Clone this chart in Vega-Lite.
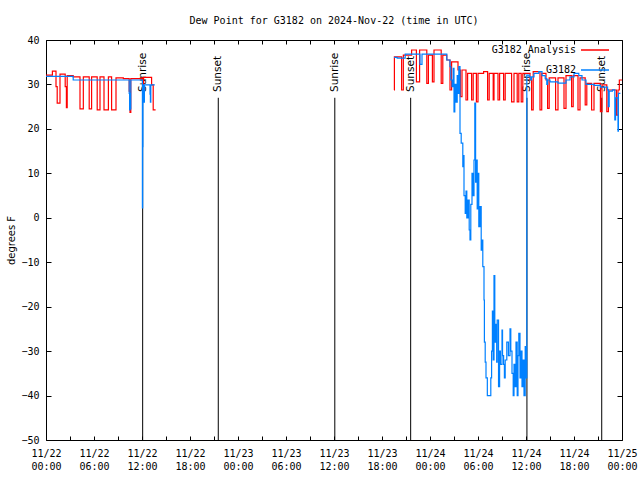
{
"$schema": "https://vega.github.io/schema/vega-lite/v6.json",
"width": 576, "height": 400,
"autosize": "none",
"padding": {"left": 46, "top": 40, "right": 18, "bottom": 40},
"background": "white",
"title": {"text": "Dew Point for G3182 on 2024-Nov-22 (time in UTC)", "font": "DejaVu Sans Mono", "fontSize": 10, "fontWeight": "normal", "color": "black", "offset": 9, "anchor": "middle"},
"config": {
  "view": {"stroke": "black", "strokeWidth": 1},
  "axis": {"labelFont": "DejaVu Sans Mono", "labelFontSize": 10, "labelColor": "black", "tickColor": "black", "domain": false, "grid": false, "titleFont": "DejaVu Sans", "titleFontSize": 10, "titleFontWeight": "normal", "titleColor": "black", "tickSize": -4},
  "legend": {"orient": "none", "legendX": 534, "legendY": -5, "title": null, "symbolType": "stroke", "symbolSize": 784, "symbolStrokeWidth": 1.5, "labelAlign": "right", "labelOffset": -34, "labelFont": "DejaVu Sans Mono", "labelFontSize": 10, "labelColor": "black", "rowPadding": -15, "padding": 0}
},
"datasets": {
  "events": [
    {"t": "2024-11-22T12:05:00Z", "lab": "Sunrise"},
    {"t": "2024-11-22T21:32:00Z", "lab": "Sunset"},
    {"t": "2024-11-23T12:06:00Z", "lab": "Sunrise"},
    {"t": "2024-11-23T21:35:00Z", "lab": "Sunset"},
    {"t": "2024-11-24T12:07:00Z", "lab": "Sunrise"},
    {"t": "2024-11-24T21:28:00Z", "lab": "Sunset"}
  ],
  "ana": [
    {"t": "2024-11-22T00:00:00Z", "v": 32.1, "s": "G3182 Analysis", "p": 1},
    {"t": "2024-11-22T00:48:00Z", "v": 33.0, "s": "G3182 Analysis", "p": 1},
    {"t": "2024-11-22T01:15:00Z", "v": 29.5, "s": "G3182 Analysis", "p": 1},
    {"t": "2024-11-22T01:24:00Z", "v": 25.8, "s": "G3182 Analysis", "p": 1},
    {"t": "2024-11-22T01:45:00Z", "v": 32.3, "s": "G3182 Analysis", "p": 1},
    {"t": "2024-11-22T02:24:00Z", "v": 29.5, "s": "G3182 Analysis", "p": 1},
    {"t": "2024-11-22T02:33:00Z", "v": 24.8, "s": "G3182 Analysis", "p": 1},
    {"t": "2024-11-22T02:39:00Z", "v": 32.0, "s": "G3182 Analysis", "p": 1},
    {"t": "2024-11-22T03:24:00Z", "v": 31.7, "s": "G3182 Analysis", "p": 1},
    {"t": "2024-11-22T04:15:00Z", "v": 24.5, "s": "G3182 Analysis", "p": 1},
    {"t": "2024-11-22T04:40:00Z", "v": 31.7, "s": "G3182 Analysis", "p": 1},
    {"t": "2024-11-22T05:24:00Z", "v": 24.5, "s": "G3182 Analysis", "p": 1},
    {"t": "2024-11-22T05:42:00Z", "v": 31.7, "s": "G3182 Analysis", "p": 1},
    {"t": "2024-11-22T06:24:00Z", "v": 24.3, "s": "G3182 Analysis", "p": 1},
    {"t": "2024-11-22T06:45:00Z", "v": 31.7, "s": "G3182 Analysis", "p": 1},
    {"t": "2024-11-22T07:15:00Z", "v": 24.3, "s": "G3182 Analysis", "p": 1},
    {"t": "2024-11-22T07:48:00Z", "v": 31.7, "s": "G3182 Analysis", "p": 1},
    {"t": "2024-11-22T08:12:00Z", "v": 24.3, "s": "G3182 Analysis", "p": 1},
    {"t": "2024-11-22T08:45:00Z", "v": 31.5, "s": "G3182 Analysis", "p": 1},
    {"t": "2024-11-22T09:40:00Z", "v": 31.3, "s": "G3182 Analysis", "p": 1},
    {"t": "2024-11-22T10:24:00Z", "v": 28.5, "s": "G3182 Analysis", "p": 1},
    {"t": "2024-11-22T10:30:00Z", "v": 23.7, "s": "G3182 Analysis", "p": 1},
    {"t": "2024-11-22T10:36:00Z", "v": 31.3, "s": "G3182 Analysis", "p": 1},
    {"t": "2024-11-22T11:58:00Z", "v": 31.5, "s": "G3182 Analysis", "p": 1},
    {"t": "2024-11-22T12:06:00Z", "v": 29.5, "s": "G3182 Analysis", "p": 1},
    {"t": "2024-11-22T12:12:00Z", "v": 31.6, "s": "G3182 Analysis", "p": 1},
    {"t": "2024-11-22T13:12:00Z", "v": 29.9, "s": "G3182 Analysis", "p": 1},
    {"t": "2024-11-22T13:24:00Z", "v": 24.3, "s": "G3182 Analysis", "p": 1},
    {"t": "2024-11-22T13:42:00Z", "v": 24.3, "s": "G3182 Analysis", "p": 1},
    {"t": "2024-11-23T19:30:00Z", "v": 28.75, "s": "G3182 Analysis", "p": 2},
    {"t": "2024-11-23T19:33:00Z", "v": 36.2, "s": "G3182 Analysis", "p": 2},
    {"t": "2024-11-23T20:27:00Z", "v": 28.75, "s": "G3182 Analysis", "p": 2},
    {"t": "2024-11-23T20:40:00Z", "v": 36.6, "s": "G3182 Analysis", "p": 2},
    {"t": "2024-11-23T21:42:00Z", "v": 37.75, "s": "G3182 Analysis", "p": 2},
    {"t": "2024-11-23T22:18:00Z", "v": 30.6, "s": "G3182 Analysis", "p": 2},
    {"t": "2024-11-23T22:42:00Z", "v": 37.75, "s": "G3182 Analysis", "p": 2},
    {"t": "2024-11-23T23:36:00Z", "v": 30.25, "s": "G3182 Analysis", "p": 2},
    {"t": "2024-11-23T23:48:00Z", "v": 36.6, "s": "G3182 Analysis", "p": 2},
    {"t": "2024-11-24T00:18:00Z", "v": 30.6, "s": "G3182 Analysis", "p": 2},
    {"t": "2024-11-24T00:30:00Z", "v": 37.75, "s": "G3182 Analysis", "p": 2},
    {"t": "2024-11-24T01:24:00Z", "v": 30.25, "s": "G3182 Analysis", "p": 2},
    {"t": "2024-11-24T01:36:00Z", "v": 36.6, "s": "G3182 Analysis", "p": 2},
    {"t": "2024-11-24T02:06:00Z", "v": 35.5, "s": "G3182 Analysis", "p": 2},
    {"t": "2024-11-24T02:30:00Z", "v": 28.75, "s": "G3182 Analysis", "p": 2},
    {"t": "2024-11-24T02:42:00Z", "v": 35.1, "s": "G3182 Analysis", "p": 2},
    {"t": "2024-11-24T03:30:00Z", "v": 33.25, "s": "G3182 Analysis", "p": 2},
    {"t": "2024-11-24T03:48:00Z", "v": 27.25, "s": "G3182 Analysis", "p": 2},
    {"t": "2024-11-24T04:00:00Z", "v": 33.25, "s": "G3182 Analysis", "p": 2},
    {"t": "2024-11-24T04:30:00Z", "v": 26.5, "s": "G3182 Analysis", "p": 2},
    {"t": "2024-11-24T04:42:00Z", "v": 32.5, "s": "G3182 Analysis", "p": 2},
    {"t": "2024-11-24T05:12:00Z", "v": 26.5, "s": "G3182 Analysis", "p": 2},
    {"t": "2024-11-24T05:24:00Z", "v": 32.5, "s": "G3182 Analysis", "p": 2},
    {"t": "2024-11-24T05:48:00Z", "v": 26.1, "s": "G3182 Analysis", "p": 2},
    {"t": "2024-11-24T06:00:00Z", "v": 32.5, "s": "G3182 Analysis", "p": 2},
    {"t": "2024-11-24T06:42:00Z", "v": 32.9, "s": "G3182 Analysis", "p": 2},
    {"t": "2024-11-24T07:12:00Z", "v": 26.5, "s": "G3182 Analysis", "p": 2},
    {"t": "2024-11-24T07:24:00Z", "v": 32.5, "s": "G3182 Analysis", "p": 2},
    {"t": "2024-11-24T07:54:00Z", "v": 26.5, "s": "G3182 Analysis", "p": 2},
    {"t": "2024-11-24T08:00:00Z", "v": 32.5, "s": "G3182 Analysis", "p": 2},
    {"t": "2024-11-24T08:30:00Z", "v": 26.5, "s": "G3182 Analysis", "p": 2},
    {"t": "2024-11-24T08:42:00Z", "v": 32.5, "s": "G3182 Analysis", "p": 2},
    {"t": "2024-11-24T09:12:00Z", "v": 26.5, "s": "G3182 Analysis", "p": 2},
    {"t": "2024-11-24T09:24:00Z", "v": 32.5, "s": "G3182 Analysis", "p": 2},
    {"t": "2024-11-24T10:12:00Z", "v": 26.1, "s": "G3182 Analysis", "p": 2},
    {"t": "2024-11-24T10:30:00Z", "v": 32.5, "s": "G3182 Analysis", "p": 2},
    {"t": "2024-11-24T10:54:00Z", "v": 26.1, "s": "G3182 Analysis", "p": 2},
    {"t": "2024-11-24T11:06:00Z", "v": 32.5, "s": "G3182 Analysis", "p": 2},
    {"t": "2024-11-24T11:24:00Z", "v": 26.1, "s": "G3182 Analysis", "p": 2},
    {"t": "2024-11-24T11:36:00Z", "v": 32.5, "s": "G3182 Analysis", "p": 2},
    {"t": "2024-11-24T12:30:00Z", "v": 31.0, "s": "G3182 Analysis", "p": 2},
    {"t": "2024-11-24T12:42:00Z", "v": 24.3, "s": "G3182 Analysis", "p": 2},
    {"t": "2024-11-24T12:54:00Z", "v": 32.9, "s": "G3182 Analysis", "p": 2},
    {"t": "2024-11-24T13:45:00Z", "v": 24.3, "s": "G3182 Analysis", "p": 2},
    {"t": "2024-11-24T13:58:00Z", "v": 32.5, "s": "G3182 Analysis", "p": 2},
    {"t": "2024-11-24T14:30:00Z", "v": 31.0, "s": "G3182 Analysis", "p": 2},
    {"t": "2024-11-24T14:42:00Z", "v": 24.6, "s": "G3182 Analysis", "p": 2},
    {"t": "2024-11-24T14:54:00Z", "v": 31.5, "s": "G3182 Analysis", "p": 2},
    {"t": "2024-11-24T15:42:00Z", "v": 24.3, "s": "G3182 Analysis", "p": 2},
    {"t": "2024-11-24T16:00:00Z", "v": 31.5, "s": "G3182 Analysis", "p": 2},
    {"t": "2024-11-24T16:45:00Z", "v": 24.6, "s": "G3182 Analysis", "p": 2},
    {"t": "2024-11-24T17:00:00Z", "v": 32.0, "s": "G3182 Analysis", "p": 2},
    {"t": "2024-11-24T17:42:00Z", "v": 25.0, "s": "G3182 Analysis", "p": 2},
    {"t": "2024-11-24T17:54:00Z", "v": 32.0, "s": "G3182 Analysis", "p": 2},
    {"t": "2024-11-24T18:30:00Z", "v": 24.3, "s": "G3182 Analysis", "p": 2},
    {"t": "2024-11-24T18:45:00Z", "v": 31.5, "s": "G3182 Analysis", "p": 2},
    {"t": "2024-11-24T19:24:00Z", "v": 25.4, "s": "G3182 Analysis", "p": 2},
    {"t": "2024-11-24T19:36:00Z", "v": 30.25, "s": "G3182 Analysis", "p": 2},
    {"t": "2024-11-24T20:12:00Z", "v": 24.25, "s": "G3182 Analysis", "p": 2},
    {"t": "2024-11-24T20:30:00Z", "v": 30.25, "s": "G3182 Analysis", "p": 2},
    {"t": "2024-11-24T21:18:00Z", "v": 23.9, "s": "G3182 Analysis", "p": 2},
    {"t": "2024-11-24T21:30:00Z", "v": 29.9, "s": "G3182 Analysis", "p": 2},
    {"t": "2024-11-24T22:06:00Z", "v": 23.9, "s": "G3182 Analysis", "p": 2},
    {"t": "2024-11-24T22:18:00Z", "v": 28.75, "s": "G3182 Analysis", "p": 2},
    {"t": "2024-11-24T23:18:00Z", "v": 23.1, "s": "G3182 Analysis", "p": 2},
    {"t": "2024-11-24T23:30:00Z", "v": 28.75, "s": "G3182 Analysis", "p": 2},
    {"t": "2024-11-24T23:40:00Z", "v": 31.0, "s": "G3182 Analysis", "p": 2},
    {"t": "2024-11-25T00:00:00Z", "v": 31.0, "s": "G3182 Analysis", "p": 2}
  ],
  "obs": [
    {"t": "2024-11-22T00:00:00Z", "v": 31.8, "s": "G3182", "p": 1},
    {"t": "2024-11-22T03:24:00Z", "v": 31.0, "s": "G3182", "p": 1},
    {"t": "2024-11-22T10:24:00Z", "v": 28.0, "s": "G3182", "p": 1},
    {"t": "2024-11-22T10:27:00Z", "v": 24.3, "s": "G3182", "p": 1},
    {"t": "2024-11-22T10:30:00Z", "v": 26.0, "s": "G3182", "p": 1},
    {"t": "2024-11-22T10:33:00Z", "v": 24.5, "s": "G3182", "p": 1},
    {"t": "2024-11-22T10:36:00Z", "v": 31.0, "s": "G3182", "p": 1},
    {"t": "2024-11-22T12:00:00Z", "v": 31.0, "s": "G3182", "p": 1},
    {"t": "2024-11-22T12:03:00Z", "v": 2.2, "s": "G3182", "p": 1},
    {"t": "2024-11-22T12:05:00Z", "v": 16.0, "s": "G3182", "p": 1},
    {"t": "2024-11-22T12:07:00Z", "v": 29.9, "s": "G3182", "p": 1},
    {"t": "2024-11-22T12:15:00Z", "v": 26.0, "s": "G3182", "p": 1},
    {"t": "2024-11-22T12:18:00Z", "v": 29.9, "s": "G3182", "p": 1},
    {"t": "2024-11-22T13:00:00Z", "v": 27.8, "s": "G3182", "p": 1},
    {"t": "2024-11-22T13:03:00Z", "v": 26.0, "s": "G3182", "p": 1},
    {"t": "2024-11-22T13:06:00Z", "v": 29.9, "s": "G3182", "p": 1},
    {"t": "2024-11-22T13:36:00Z", "v": 29.9, "s": "G3182", "p": 1},
    {"t": "2024-11-23T19:30:00Z", "v": 36.1, "s": "G3182", "p": 2},
    {"t": "2024-11-23T19:54:00Z", "v": 35.9, "s": "G3182", "p": 2},
    {"t": "2024-11-23T20:54:00Z", "v": 36.8, "s": "G3182", "p": 2},
    {"t": "2024-11-23T22:45:00Z", "v": 34.5, "s": "G3182", "p": 2},
    {"t": "2024-11-23T23:00:00Z", "v": 36.8, "s": "G3182", "p": 2},
    {"t": "2024-11-24T02:06:00Z", "v": 35.5, "s": "G3182", "p": 2},
    {"t": "2024-11-24T02:30:00Z", "v": 34.0, "s": "G3182", "p": 2},
    {"t": "2024-11-24T02:36:00Z", "v": 31.0, "s": "G3182", "p": 2},
    {"t": "2024-11-24T02:45:00Z", "v": 29.5, "s": "G3182", "p": 2},
    {"t": "2024-11-24T02:54:00Z", "v": 33.6, "s": "G3182", "p": 2},
    {"t": "2024-11-24T03:00:00Z", "v": 23.8, "s": "G3182", "p": 2},
    {"t": "2024-11-24T03:06:00Z", "v": 30.0, "s": "G3182", "p": 2},
    {"t": "2024-11-24T03:15:00Z", "v": 26.0, "s": "G3182", "p": 2},
    {"t": "2024-11-24T03:24:00Z", "v": 32.0, "s": "G3182", "p": 2},
    {"t": "2024-11-24T03:30:00Z", "v": 28.0, "s": "G3182", "p": 2},
    {"t": "2024-11-24T03:36:00Z", "v": 34.0, "s": "G3182", "p": 2},
    {"t": "2024-11-24T03:45:00Z", "v": 19.0, "s": "G3182", "p": 2},
    {"t": "2024-11-24T03:54:00Z", "v": 16.8, "s": "G3182", "p": 2},
    {"t": "2024-11-24T04:06:00Z", "v": 11.5, "s": "G3182", "p": 2},
    {"t": "2024-11-24T04:10:00Z", "v": 14.0, "s": "G3182", "p": 2},
    {"t": "2024-11-24T04:15:00Z", "v": 5.0, "s": "G3182", "p": 2},
    {"t": "2024-11-24T04:24:00Z", "v": 1.0, "s": "G3182", "p": 2},
    {"t": "2024-11-24T04:30:00Z", "v": 6.0, "s": "G3182", "p": 2},
    {"t": "2024-11-24T04:36:00Z", "v": 0.0, "s": "G3182", "p": 2},
    {"t": "2024-11-24T04:45:00Z", "v": 4.0, "s": "G3182", "p": 2},
    {"t": "2024-11-24T04:54:00Z", "v": -2.75, "s": "G3182", "p": 2},
    {"t": "2024-11-24T05:00:00Z", "v": -5.0, "s": "G3182", "p": 2},
    {"t": "2024-11-24T05:06:00Z", "v": 3.0, "s": "G3182", "p": 2},
    {"t": "2024-11-24T05:15:00Z", "v": 10.0, "s": "G3182", "p": 2},
    {"t": "2024-11-24T05:24:00Z", "v": 5.0, "s": "G3182", "p": 2},
    {"t": "2024-11-24T05:30:00Z", "v": 13.0, "s": "G3182", "p": 2},
    {"t": "2024-11-24T05:36:00Z", "v": 25.8, "s": "G3182", "p": 2},
    {"t": "2024-11-24T05:42:00Z", "v": 8.0, "s": "G3182", "p": 2},
    {"t": "2024-11-24T05:48:00Z", "v": 13.0, "s": "G3182", "p": 2},
    {"t": "2024-11-24T05:54:00Z", "v": 2.0, "s": "G3182", "p": 2},
    {"t": "2024-11-24T06:00:00Z", "v": 10.0, "s": "G3182", "p": 2},
    {"t": "2024-11-24T06:06:00Z", "v": -2.0, "s": "G3182", "p": 2},
    {"t": "2024-11-24T06:15:00Z", "v": 2.5, "s": "G3182", "p": 2},
    {"t": "2024-11-24T06:24:00Z", "v": -7.3, "s": "G3182", "p": 2},
    {"t": "2024-11-24T06:30:00Z", "v": -5.0, "s": "G3182", "p": 2},
    {"t": "2024-11-24T06:36:00Z", "v": -11.0, "s": "G3182", "p": 2},
    {"t": "2024-11-24T06:45:00Z", "v": -18.5, "s": "G3182", "p": 2},
    {"t": "2024-11-24T06:48:00Z", "v": -28.0, "s": "G3182", "p": 2},
    {"t": "2024-11-24T06:54:00Z", "v": -32.5, "s": "G3182", "p": 2},
    {"t": "2024-11-24T07:00:00Z", "v": -36.0, "s": "G3182", "p": 2},
    {"t": "2024-11-24T07:10:00Z", "v": -40.0, "s": "G3182", "p": 2},
    {"t": "2024-11-24T07:36:00Z", "v": -36.0, "s": "G3182", "p": 2},
    {"t": "2024-11-24T07:42:00Z", "v": -30.0, "s": "G3182", "p": 2},
    {"t": "2024-11-24T07:48:00Z", "v": -21.0, "s": "G3182", "p": 2},
    {"t": "2024-11-24T07:54:00Z", "v": -32.0, "s": "G3182", "p": 2},
    {"t": "2024-11-24T08:00:00Z", "v": -13.0, "s": "G3182", "p": 2},
    {"t": "2024-11-24T08:06:00Z", "v": -28.0, "s": "G3182", "p": 2},
    {"t": "2024-11-24T08:12:00Z", "v": -24.0, "s": "G3182", "p": 2},
    {"t": "2024-11-24T08:20:00Z", "v": -32.5, "s": "G3182", "p": 2},
    {"t": "2024-11-24T08:24:00Z", "v": -23.0, "s": "G3182", "p": 2},
    {"t": "2024-11-24T08:34:00Z", "v": -38.0, "s": "G3182", "p": 2},
    {"t": "2024-11-24T08:42:00Z", "v": -30.0, "s": "G3182", "p": 2},
    {"t": "2024-11-24T08:48:00Z", "v": -33.0, "s": "G3182", "p": 2},
    {"t": "2024-11-24T09:00:00Z", "v": -25.3, "s": "G3182", "p": 2},
    {"t": "2024-11-24T09:04:00Z", "v": -31.0, "s": "G3182", "p": 2},
    {"t": "2024-11-24T09:12:00Z", "v": -33.0, "s": "G3182", "p": 2},
    {"t": "2024-11-24T09:18:00Z", "v": -36.0, "s": "G3182", "p": 2},
    {"t": "2024-11-24T09:24:00Z", "v": -32.0, "s": "G3182", "p": 2},
    {"t": "2024-11-24T09:36:00Z", "v": -28.0, "s": "G3182", "p": 2},
    {"t": "2024-11-24T09:48:00Z", "v": -31.0, "s": "G3182", "p": 2},
    {"t": "2024-11-24T10:00:00Z", "v": -25.0, "s": "G3182", "p": 2},
    {"t": "2024-11-24T10:06:00Z", "v": -30.0, "s": "G3182", "p": 2},
    {"t": "2024-11-24T10:15:00Z", "v": -35.0, "s": "G3182", "p": 2},
    {"t": "2024-11-24T10:24:00Z", "v": -40.0, "s": "G3182", "p": 2},
    {"t": "2024-11-24T10:30:00Z", "v": -33.0, "s": "G3182", "p": 2},
    {"t": "2024-11-24T10:36:00Z", "v": -38.0, "s": "G3182", "p": 2},
    {"t": "2024-11-24T10:45:00Z", "v": -28.0, "s": "G3182", "p": 2},
    {"t": "2024-11-24T10:54:00Z", "v": -40.0, "s": "G3182", "p": 2},
    {"t": "2024-11-24T11:00:00Z", "v": -31.0, "s": "G3182", "p": 2},
    {"t": "2024-11-24T11:06:00Z", "v": -26.0, "s": "G3182", "p": 2},
    {"t": "2024-11-24T11:15:00Z", "v": -36.0, "s": "G3182", "p": 2},
    {"t": "2024-11-24T11:24:00Z", "v": -30.0, "s": "G3182", "p": 2},
    {"t": "2024-11-24T11:30:00Z", "v": -38.0, "s": "G3182", "p": 2},
    {"t": "2024-11-24T11:36:00Z", "v": -32.0, "s": "G3182", "p": 2},
    {"t": "2024-11-24T11:45:00Z", "v": -40.0, "s": "G3182", "p": 2},
    {"t": "2024-11-24T11:54:00Z", "v": -29.0, "s": "G3182", "p": 2},
    {"t": "2024-11-24T12:00:00Z", "v": -36.0, "s": "G3182", "p": 2},
    {"t": "2024-11-24T12:06:00Z", "v": 32.1, "s": "G3182", "p": 2},
    {"t": "2024-11-24T12:24:00Z", "v": 31.7, "s": "G3182", "p": 2},
    {"t": "2024-11-24T12:36:00Z", "v": 31.0, "s": "G3182", "p": 2},
    {"t": "2024-11-24T12:42:00Z", "v": 31.7, "s": "G3182", "p": 2},
    {"t": "2024-11-24T13:00:00Z", "v": 32.5, "s": "G3182", "p": 2},
    {"t": "2024-11-24T13:36:00Z", "v": 32.9, "s": "G3182", "p": 2},
    {"t": "2024-11-24T14:00:00Z", "v": 32.0, "s": "G3182", "p": 2},
    {"t": "2024-11-24T14:24:00Z", "v": 31.3, "s": "G3182", "p": 2},
    {"t": "2024-11-24T14:36:00Z", "v": 30.0, "s": "G3182", "p": 2},
    {"t": "2024-11-24T14:42:00Z", "v": 31.0, "s": "G3182", "p": 2},
    {"t": "2024-11-24T15:00:00Z", "v": 30.6, "s": "G3182", "p": 2},
    {"t": "2024-11-24T16:00:00Z", "v": 30.3, "s": "G3182", "p": 2},
    {"t": "2024-11-24T17:00:00Z", "v": 31.0, "s": "G3182", "p": 2},
    {"t": "2024-11-24T17:30:00Z", "v": 31.7, "s": "G3182", "p": 2},
    {"t": "2024-11-24T18:00:00Z", "v": 32.5, "s": "G3182", "p": 2},
    {"t": "2024-11-24T18:36:00Z", "v": 32.0, "s": "G3182", "p": 2},
    {"t": "2024-11-24T19:00:00Z", "v": 31.0, "s": "G3182", "p": 2},
    {"t": "2024-11-24T19:30:00Z", "v": 30.0, "s": "G3182", "p": 2},
    {"t": "2024-11-24T20:30:00Z", "v": 29.8, "s": "G3182", "p": 2},
    {"t": "2024-11-24T21:18:00Z", "v": 29.4, "s": "G3182", "p": 2},
    {"t": "2024-11-24T22:12:00Z", "v": 28.8, "s": "G3182", "p": 2},
    {"t": "2024-11-24T22:18:00Z", "v": 25.0, "s": "G3182", "p": 2},
    {"t": "2024-11-24T22:24:00Z", "v": 28.5, "s": "G3182", "p": 2},
    {"t": "2024-11-24T22:48:00Z", "v": 28.8, "s": "G3182", "p": 2},
    {"t": "2024-11-24T23:06:00Z", "v": 22.0, "s": "G3182", "p": 2},
    {"t": "2024-11-24T23:12:00Z", "v": 27.0, "s": "G3182", "p": 2},
    {"t": "2024-11-24T23:30:00Z", "v": 19.5, "s": "G3182", "p": 2},
    {"t": "2024-11-24T23:33:00Z", "v": 28.0, "s": "G3182", "p": 2},
    {"t": "2024-11-24T23:48:00Z", "v": 28.0, "s": "G3182", "p": 2}
  ]
},
"layer": [
  {
    "data": {"name": "events"},
    "mark": {"type": "rule", "color": "black", "strokeWidth": 1},
    "encoding": {
      "x": {"field": "t", "type": "temporal", "scale": {"type": "utc", "domain": [{"year": 2024, "month": 11, "date": 22, "utc": true}, {"year": 2024, "month": 11, "date": 25, "utc": true}]}, "axis": {"orient": "top", "labels": false, "title": null, "tickCount": 36}},
      "y": {"datum": -50, "type": "quantitative", "scale": {"domain": [-50, 40]}, "axis": {"orient": "right", "labels": false, "title": null, "values": [-50, -40, -30, -20, -10, 0, 10, 20, 30, 40], "tickSize": -5}},
      "y2": {"datum": 27}
    }
  },
  {
    "data": {"name": "events"},
    "mark": {"type": "text", "angle": 270, "align": "left", "baseline": "middle", "font": "DejaVu Sans", "fontSize": 10.5, "color": "black"},
    "encoding": {
      "x": {"field": "t", "type": "temporal", "axis": null},
      "y": {"datum": 28.3, "type": "quantitative", "axis": null},
      "text": {"field": "lab"}
    }
  },
  {
    "data": {"name": "ana"},
    "mark": {"type": "line", "interpolate": "step-after", "strokeWidth": 1.2},
    "encoding": {
      "x": {"field": "t", "type": "temporal", "axis": {"orient": "bottom", "title": null, "tickCount": 36, "labelOverlap": false, "labelFlush": false, "labelPadding": 12, "labelLineHeight": 13, "labelExpr": "utchours(datum.value) % 6 == 0 ? [utcFormat(datum.value, '%m/%d'), utcFormat(datum.value, '%H:%M')] : ''"}},
      "y": {"field": "v", "type": "quantitative", "axis": {"orient": "left", "title": "degrees F", "values": [-50, -40, -30, -20, -10, 0, 10, 20, 30, 40], "tickSize": -5, "labelPadding": 12, "titleAngle": 270, "titleX": -35, "titleY": 200, "titleAlign": "center", "titleBaseline": "middle"}},
      "color": {"field": "s", "type": "nominal", "scale": {"domain": ["G3182 Analysis", "G3182"], "range": ["#ff0000", "#0080ff"]}},
      "detail": {"field": "p"}
    }
  },
  {
    "data": {"name": "obs"},
    "mark": {"type": "line", "interpolate": "step-after", "strokeWidth": 1.2},
    "encoding": {
      "x": {"field": "t", "type": "temporal", "axis": null},
      "y": {"field": "v", "type": "quantitative", "axis": null},
      "color": {"field": "s", "type": "nominal"},
      "detail": {"field": "p"}
    }
  }
],
"resolve": {"axis": {"x": "independent", "y": "independent"}}
}
